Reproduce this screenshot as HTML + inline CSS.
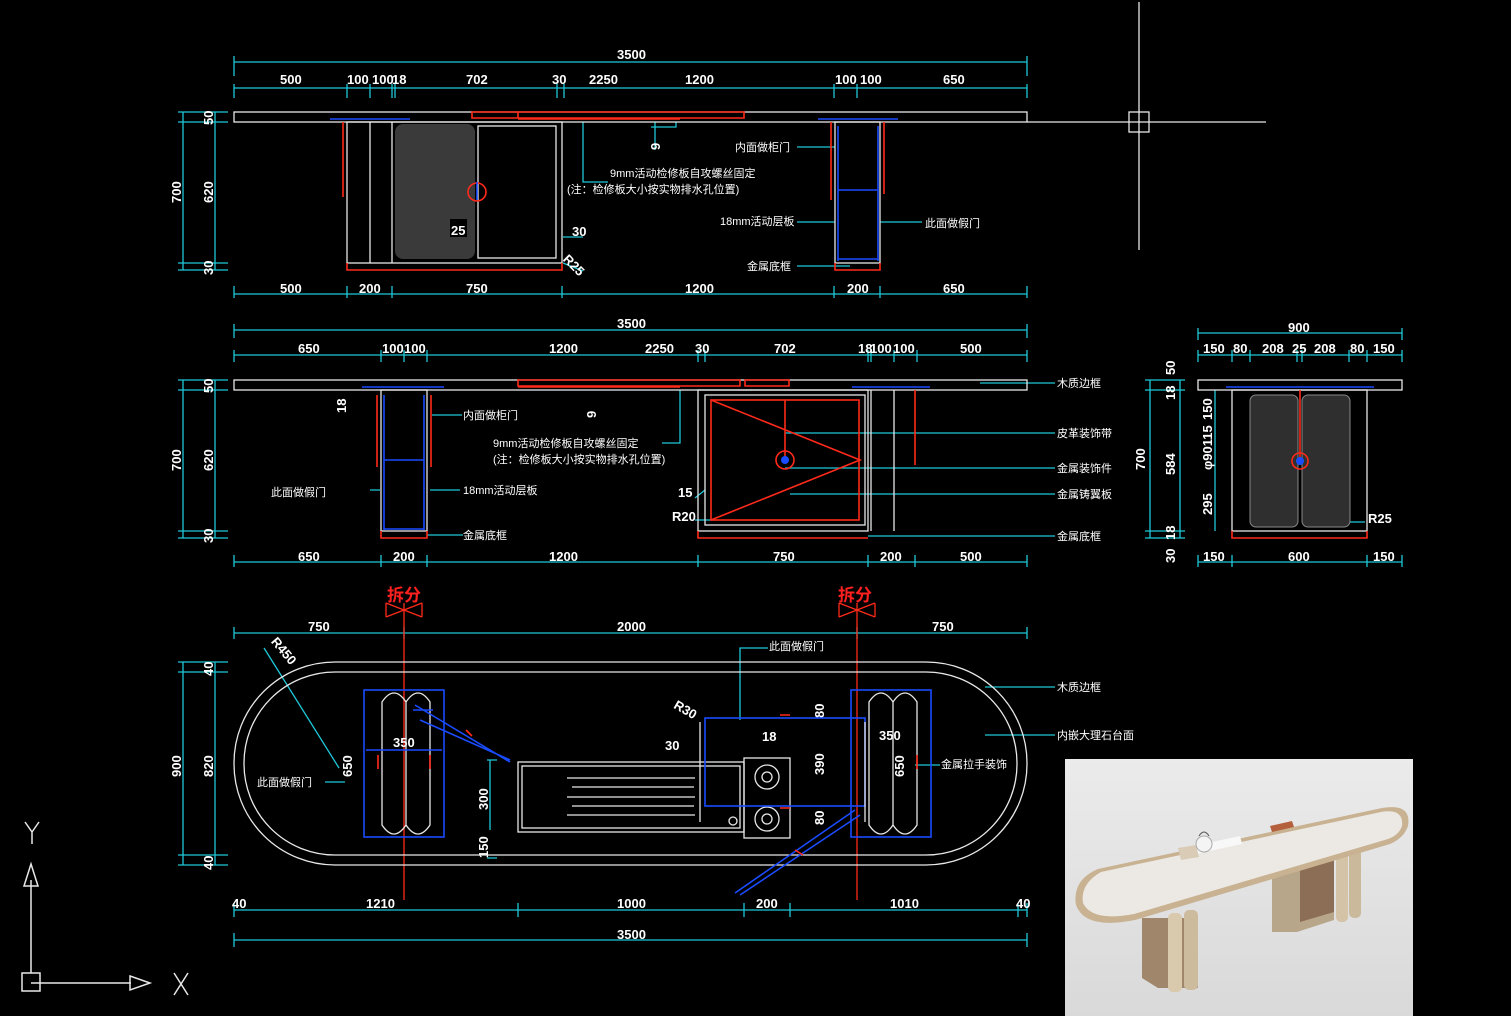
<!DOCTYPE html>
<html><head><meta charset="utf-8"><style>
html,body{margin:0;padding:0;background:#000;width:1511px;height:1016px;overflow:hidden}
svg{display:block}
text{font-family:"Liberation Sans","Noto Sans CJK SC",sans-serif;font-size:12px;fill:#fff}
.d{stroke:#1fc8d8;stroke-width:1.3;fill:none}
.w{stroke:#e8e8e8;stroke-width:1.3;fill:none}
.r{stroke:#ff2a1a;stroke-width:1.6;fill:none}
.b{stroke:#1a4cff;stroke-width:1.6;fill:none}
.n{font-weight:bold;font-size:13px}
.c{font-size:11px}
</style></head><body>
<svg width="1511" height="1016" viewBox="0 0 1511 1016">
<rect width="1511" height="1016" fill="#000"/>
<g class="w" stroke-width="1"><line x1="1139" y1="2" x2="1139" y2="250"/><line x1="1027" y1="122" x2="1266" y2="122"/><rect x="1129" y="112" width="20" height="20"/></g>

<!-- ===== TOP ELEVATION ===== -->
<g class="d">
<line x1="234" y1="62" x2="1027" y2="62"/><line x1="234" y1="56" x2="234" y2="76"/><line x1="1027" y1="56" x2="1027" y2="76"/>
<line x1="234" y1="88" x2="1027" y2="88"/>
<path d="M234 84v14M347 84v14M370 84v14M392 84v14M395 84v14M557 84v14M564 84v14M834 84v14M857 84v14M1027 84v14"/>
<line x1="234" y1="294" x2="1027" y2="294"/>
<path d="M234 286v12M347 286v12M392 286v12M562 286v12M834 286v12M880 286v12M1027 286v12"/>
<line x1="183" y1="112" x2="183" y2="270"/><line x1="215" y1="112" x2="215" y2="270"/>
<path d="M178 112h50M178 122h50M178 263h50M178 270h50"/>
<path d="M583 122v60h25M655 122v28M676 122v5h-25M835 147h-38M880 222h42M835 222h-38M850 266h-53M563 237h20M563 263l20 8"/>
</g>
<text x="617" y="59" class="n">3500</text>
<g class="n"><text x="280" y="84" class="n">500</text><text x="347" y="84" class="n">100</text><text x="372" y="84" class="n">100</text><text x="392" y="84" class="n">18</text><text x="466" y="84" class="n">702</text><text x="552" y="84" class="n">30</text><text x="589" y="84" class="n">2250</text><text x="685" y="84" class="n">1200</text><text x="835" y="84" class="n">100</text><text x="860" y="84" class="n">100</text><text x="943" y="84" class="n">650</text>
<text x="280" y="293" class="n">500</text><text x="359" y="293" class="n">200</text><text x="466" y="293" class="n">750</text><text x="685" y="293" class="n">1200</text><text x="847" y="293" class="n">200</text><text x="943" y="293" class="n">650</text></g>
<g class="n"><text transform="translate(181,203) rotate(-90)" class="n">700</text><text transform="translate(213,203) rotate(-90)" class="n">620</text><text transform="translate(213,125) rotate(-90)" class="n">50</text><text transform="translate(213,275) rotate(-90)" class="n">30</text></g>
<rect x="234" y="112" width="793" height="10" class="w"/>
<path class="b" d="M330 119h80M818 119h80"/>
<path class="r" d="M472 112h46v6h-46zM518 112h226v6H518zM518 119h162"/>
<rect x="347" y="122" width="215" height="141" class="w"/>
<path class="w" d="M370 122v141M392 122v141"/>
<rect x="395" y="124" width="80" height="135" rx="8" fill="#3a3a3a" stroke="none"/>
<rect x="478" y="126" width="78" height="132" fill="#3a3a3a" class="w"/>
<path class="r" d="M347 263v7h215v-7M343 122v75"/>
<circle cx="477" cy="192" r="9" class="r"/><line x1="477" y1="182" x2="477" y2="200" class="b"/>
<rect x="450" y="219" width="17" height="18" fill="#000"/><text x="451" y="235" class="n">25</text>
<text x="572" y="236" class="n">30</text><text x="563" y="266" class="n" transform="rotate(45,570,262)">R25</text>
<rect x="835" y="122" width="45" height="141" class="w"/>
<path class="b" d="M838 126v135M878 126v135M838 190h40M838 259h40"/>
<path class="r" d="M831 122v78M884 122v72M835 263v7h45v-7"/>
<text x="735" y="151" class="c">内面做柜门</text>
<text x="610" y="177" class="c">9mm活动检修板自攻螺丝固定</text>
<text x="567" y="193" class="c">(注：检修板大小按实物排水孔位置)</text>
<text x="720" y="225" class="c">18mm活动层板</text>
<text x="925" y="227" class="c">此面做假门</text>
<text x="747" y="270" class="c">金属底框</text>
<text x="650" y="150" class="n" transform="rotate(-90,655,145)">9</text>

<!-- ===== SECOND ELEVATION ===== -->
<g class="d">
<line x1="234" y1="330" x2="1027" y2="330"/><path d="M234 324v14M1027 324v14"/>
<line x1="234" y1="355" x2="1027" y2="355"/>
<path d="M234 350v12M381 350v12M404 350v12M427 350v12M698 350v12M705 350v12M868 350v12M871 350v12M894 350v12M917 350v12M1027 350v12"/>
<line x1="234" y1="562" x2="1027" y2="562"/>
<path d="M234 555v12M381 555v12M427 555v12M698 555v12M868 555v12M915 555v12M1027 555v12"/>
<line x1="183" y1="380" x2="183" y2="538"/><line x1="215" y1="380" x2="215" y2="538"/>
<path d="M178 380h50M178 390h50M178 531h50M178 538h50"/>
<path d="M432 415h30M680 390v53h-18M705 490l-10 8M715 520h-20M785 433h270M785 468h270M790 494h265M868 536h187M980 383h75M380 490h-10M430 490h30M427 535h36"/>
</g>
<text x="617" y="328" class="n">3500</text>
<g><text x="298" y="353" class="n">650</text><text x="382" y="353" class="n">100</text><text x="404" y="353" class="n">100</text><text x="549" y="353" class="n">1200</text><text x="645" y="353" class="n">2250</text><text x="695" y="353" class="n">30</text><text x="774" y="353" class="n">702</text><text x="858" y="353" class="n">18</text><text x="870" y="353" class="n">100</text><text x="893" y="353" class="n">100</text><text x="960" y="353" class="n">500</text>
<text x="298" y="561" class="n">650</text><text x="393" y="561" class="n">200</text><text x="549" y="561" class="n">1200</text><text x="773" y="561" class="n">750</text><text x="880" y="561" class="n">200</text><text x="960" y="561" class="n">500</text>
<text transform="translate(181,471) rotate(-90)" class="n">700</text><text transform="translate(213,471) rotate(-90)" class="n">620</text><text transform="translate(213,393) rotate(-90)" class="n">50</text><text transform="translate(213,543) rotate(-90)" class="n">30</text><text transform="translate(346,413) rotate(-90)" class="n">18</text><text transform="translate(596,418) rotate(-90)" class="n">9</text>
<text x="678" y="497" class="n">15</text><text x="672" y="521" class="n">R20</text></g>
<rect x="234" y="380" width="793" height="10" class="w"/>
<path class="b" d="M362 387h82M852 387h78"/>
<path class="r" d="M518 380h222v6H518zM745 380h44v6h-44zM518 387h162"/>
<rect x="381" y="390" width="46" height="141" class="w"/>
<path class="b" d="M384 395v135M424 395v135M384 460h40M384 529h40"/>
<path class="r" d="M377 395v72M431 395v72M381 531v7h46v-7"/>
<rect x="698" y="390" width="170" height="141" class="w"/>
<path class="w" d="M871 390v141M894 390v141"/>
<rect x="705" y="395" width="160" height="130" class="w"/>
<rect x="711" y="400" width="148" height="120" fill="#3a3a3a" class="r"/>
<path class="r" d="M711 520L860 460L711 400M785 400v60M698 531v7h170M915 390v75"/>
<circle cx="785" cy="460" r="9" class="r"/><circle cx="785" cy="460" r="4" fill="#1a4cff"/>
<text x="463" y="419" class="c">内面做柜门</text>
<text x="493" y="447" class="c">9mm活动检修板自攻螺丝固定</text>
<text x="493" y="463" class="c">(注：检修板大小按实物排水孔位置)</text>
<text x="271" y="496" class="c">此面做假门</text>
<text x="463" y="494" class="c">18mm活动层板</text>
<text x="463" y="539" class="c">金属底框</text>
<text x="1057" y="387" class="c">木质边框</text>
<text x="1057" y="437" class="c">皮革装饰带</text>
<text x="1057" y="472" class="c">金属装饰件</text>
<text x="1057" y="498" class="c">金属铸翼板</text>
<text x="1057" y="540" class="c">金属底框</text>

<!-- side section -->
<g class="d">
<line x1="1198" y1="333" x2="1402" y2="333"/><path d="M1198 328v12M1402 328v12"/>
<line x1="1198" y1="355" x2="1402" y2="355"/>
<path d="M1198 350v12M1232 350v12M1250 350v12M1297 350v12M1302 350v12M1349 350v12M1367 350v12M1402 350v12"/>
<line x1="1198" y1="562" x2="1402" y2="562"/><path d="M1198 555v12M1232 555v12M1367 555v12M1402 555v12"/>
<line x1="1150" y1="380" x2="1150" y2="538"/><line x1="1180" y1="380" x2="1180" y2="538"/><line x1="1215" y1="390" x2="1215" y2="531"/>
<path d="M1145 380h40M1145 390h40M1145 531h40M1145 538h40M1350 522h15"/>
</g>
<text x="1288" y="332" class="n">900</text>
<g><text x="1203" y="353" class="n">150</text><text x="1233" y="353" class="n">80</text><text x="1262" y="353" class="n">208</text><text x="1292" y="353" class="n">25</text><text x="1314" y="353" class="n">208</text><text x="1350" y="353" class="n">80</text><text x="1373" y="353" class="n">150</text>
<text x="1203" y="561" class="n">150</text><text x="1288" y="561" class="n">600</text><text x="1373" y="561" class="n">150</text><text x="1368" y="523" class="n">R25</text>
<text transform="translate(1145,470) rotate(-90)" class="n">700</text><text transform="translate(1175,475) rotate(-90)" class="n">584</text><text transform="translate(1175,375) rotate(-90)" class="n">50</text><text transform="translate(1175,400) rotate(-90)" class="n">18</text><text transform="translate(1175,540) rotate(-90)" class="n">18</text><text transform="translate(1175,563) rotate(-90)" class="n">30</text>
<text transform="translate(1212,420) rotate(-90)" class="n">150</text><text transform="translate(1212,470) rotate(-90)" class="n">φ90115</text><text transform="translate(1212,515) rotate(-90)" class="n">295</text></g>
<rect x="1198" y="380" width="204" height="10" class="w"/>
<path class="b" d="M1226 387h148"/>
<rect x="1232" y="390" width="135" height="141" class="w"/>
<rect x="1250" y="395" width="48" height="132" rx="6" fill="#2f2f2f" stroke="#888"/>
<rect x="1302" y="395" width="48" height="132" rx="6" fill="#2f2f2f" stroke="#888"/>
<path class="r" d="M1232 531v7h135v-7M1300 390v70"/>
<circle cx="1300" cy="461" r="8" class="r"/><circle cx="1300" cy="461" r="4" fill="#1a4cff"/>

<!-- ===== PLAN ===== -->
<g class="d">
<line x1="234" y1="633" x2="1027" y2="633"/><path d="M234 627v12M404 627v12M857 627v12M1027 627v12"/>
<line x1="234" y1="910" x2="1027" y2="910"/><path d="M234 903v14M518 903v14M744 903v14M790 903v14M1018 903v14M1027 903v14"/>
<line x1="234" y1="940" x2="1027" y2="940"/><path d="M234 933v14M1027 933v14"/>
<line x1="183" y1="662" x2="183" y2="865"/><line x1="215" y1="662" x2="215" y2="865"/>
<path d="M178 662h50M178 672h50M178 855h50M178 865h50"/>
<path d="M264 648l75 120M345 782h-20M740 720v-72h28M985 687h70M985 735h70M915 765h25M490 760v70M487 760h10M487 858h10"/>
</g>
<g stroke="#ff2a1a" stroke-width="1.3"><line x1="404" y1="603" x2="404" y2="900"/><line x1="857" y1="603" x2="857" y2="900"/>
<path d="M386 603l36 14M422 603l-36 14M386 603v14M422 603v14M839 603l36 14M875 603l-36 14M839 603v14M875 603v14" fill="none"/></g>
<text x="387" y="601" style="fill:#ff2020;font-size:17px;font-weight:bold">拆分</text>
<text x="838" y="601" style="fill:#ff2020;font-size:17px;font-weight:bold">拆分</text>
<g><text x="308" y="631" class="n">750</text><text x="617" y="631" class="n">2000</text><text x="932" y="631" class="n">750</text>
<text x="232" y="908" class="n">40</text><text x="366" y="908" class="n">1210</text><text x="617" y="908" class="n">1000</text><text x="756" y="908" class="n">200</text><text x="890" y="908" class="n">1010</text><text x="1016" y="908" class="n">40</text><text x="617" y="939" class="n">3500</text>
<text transform="translate(181,777) rotate(-90)" class="n">900</text><text transform="translate(213,777) rotate(-90)" class="n">820</text><text transform="translate(213,676) rotate(-90)" class="n">40</text><text transform="translate(213,870) rotate(-90)" class="n">40</text>
<text x="262" y="650" class="n" transform="rotate(50,275,655)">R450</text>
<text x="393" y="747" class="n">350</text><text x="879" y="740" class="n">350</text><text x="665" y="750" class="n">30</text><text x="762" y="741" class="n">18</text><text x="673" y="713" class="n" transform="rotate(30,683,710)">R30</text>
<text transform="translate(352,777) rotate(-90)" class="n">650</text><text transform="translate(904,777) rotate(-90)" class="n">650</text><text transform="translate(824,775) rotate(-90)" class="n">390</text><text transform="translate(824,718) rotate(-90)" class="n">80</text><text transform="translate(824,825) rotate(-90)" class="n">80</text><text transform="translate(488,810) rotate(-90)" class="n">300</text><text transform="translate(488,858) rotate(-90)" class="n">150</text></g>
<rect x="234" y="662" width="793" height="203" rx="101" class="w"/>
<rect x="244" y="672" width="773" height="183" rx="91" class="w"/>
<rect x="364" y="690" width="80" height="147" class="b"/>
<path class="w" d="M382 702q12-18 24 0q12-18 24 0v123q-12 18-24 0q-12 18-24 0zM406 702v123"/>
<path class="b" d="M366 750h76M433 710h-20M420 720l90 40M415 705l95 57"/>
<path class="r" d="M378 755v14M430 755v14M466 730l6 6"/>
<rect x="518" y="762" width="226" height="70" class="w"/><rect x="522" y="766" width="218" height="62" class="w"/>
<path class="w" d="M567 778h128M572 787h122M567 797h128M572 806h122M567 815h128"/>
<circle cx="733" cy="821" r="4" class="w"/>
<rect x="744" y="758" width="46" height="80" class="w"/>
<circle cx="767" cy="777" r="12" class="w"/><circle cx="767" cy="777" r="5" class="w"/>
<circle cx="767" cy="819" r="12" class="w"/><circle cx="767" cy="819" r="5" class="w"/>
<rect x="705" y="718" width="160" height="88" class="b"/>
<path class="w" d="M700 722v100M865 722v100"/>
<path class="b" d="M855 810L735 893M860 815L740 895"/>
<path class="r" d="M780 715h10M780 808h10M795 850l8 5"/>
<rect x="851" y="690" width="80" height="147" class="b"/>
<path class="w" d="M869 702q12-18 24 0q12-18 24 0v123q-12 18-24 0q-12 18-24 0zM893 702v123"/>
<path class="r" d="M917 755v14"/>
<text x="769" y="650" class="c">此面做假门</text>
<text x="257" y="786" class="c">此面做假门</text>
<text x="1057" y="691" class="c">木质边框</text>
<text x="1057" y="739" class="c">内嵌大理石台面</text>
<text x="941" y="768" class="c">金属拉手装饰</text>

<!-- UCS icon -->
<g stroke="#e8e8e8" stroke-width="1.5" fill="none">
<path d="M31 973V880M31 983h100M22 973h18v18H22z"/><path d="M24 886l7-22l7 22zM130 976l20 7l-20 7z"/>
<path d="M25 822l7 10l7-10M32 832v12M174 973l14 22M188 973l-14 22"/></g>

<!-- render photo -->
<defs><linearGradient id="bg" x1="0" y1="0" x2="0" y2="1"><stop offset="0" stop-color="#ebebeb"/><stop offset="1" stop-color="#d9d9d9"/></linearGradient></defs>
<rect x="1065" y="759" width="348" height="257" fill="url(#bg)"/>
<!-- legs -->
<path d="M1142 918h56v70h-40l-16-10z" fill="#a0876c"/>
<rect x="1168" y="913" width="14" height="79" rx="5" fill="#d9c9ad"/>
<rect x="1184" y="910" width="14" height="80" rx="5" fill="#cdbb9d"/>
<path d="M1272 870h62v50l-37 12h-25z" fill="#b8a68a"/>
<path d="M1300 865l34-8v55l-34 10z" fill="#8c6d55"/>
<rect x="1336" y="850" width="12" height="72" rx="5" fill="#d4c3a6"/>
<rect x="1349" y="848" width="12" height="70" rx="5" fill="#cbb99b"/>
<!-- top -->
<path d="M1098 869L1382 808Q1412 803 1408 826Q1404 838 1390 844L1135 920Q1085 930 1076 905Q1072 880 1098 869Z" fill="#c8b291"/>
<path d="M1101 872L1381 812Q1404 808 1402 826Q1399 835 1388 839L1134 914Q1092 922 1083 903Q1080 884 1101 872Z" fill="#ece9e4"/>
<path d="M1180 849l60-13 2 8-60 13z" fill="#f8f8f8"/>
<path d="M1178 848l18-3 3 12-18 3z" fill="#d9cbb5"/>
<path d="M1270 826l22-5 2 6-22 5z" fill="#b5603c"/>
<circle cx="1204" cy="844" r="8" fill="#f4f4f4" stroke="#aaa"/>
<path d="M1199 836q5-8 10 0" stroke="#555" fill="none"/>
</svg>
</body></html>
